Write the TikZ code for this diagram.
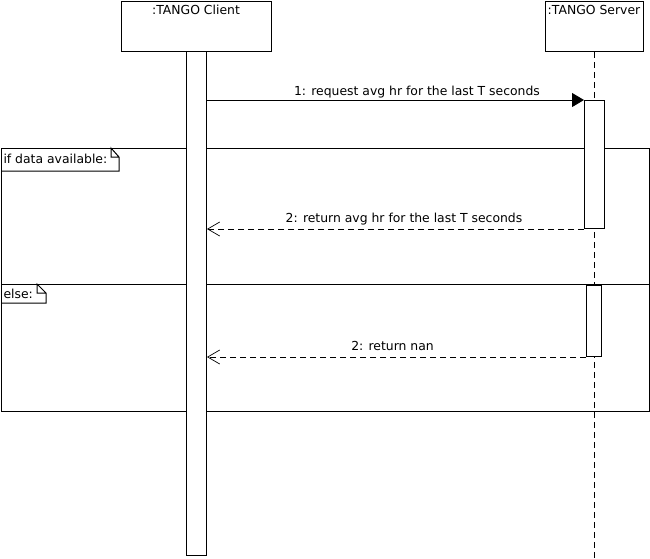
\documentclass[tikz,border=0pt]{standalone}
\usepackage{fontspec}
\setmainfont{DejaVu Sans}
\usetikzlibrary{arrows.meta}
\begin{document}
\begin{tikzpicture}[x=1pt,y=-1pt,line width=1pt,
  txt/.style={font=\fontsize{12.4}{14}\selectfont,inner sep=0pt,anchor=base},
  txtw/.style={txt,anchor=base west},
  hdr/.style={draw,fill=white,anchor=north west,minimum height=50pt,inner sep=0pt},
  actbar/.style={draw,fill=white,anchor=north west,inner sep=0pt},
  lifeline/.style={dash pattern=on 6pt off 4pt},
  msg/.style={-{Triangle[length=12pt,width=14pt]}},
  reply/.style={dash pattern=on 6pt off 4pt,-{Straight Barb[length=12pt,width=14pt,line width=0.7pt]}}]
\useasboundingbox (0,0) rectangle (650,558);
% combined fragment
\node[draw,anchor=north west,minimum width=648pt,minimum height=263pt,inner sep=0pt] (frame) at (1,148) {};
\coordinate (divL) at (1,284);
\coordinate (divR) at (649,284);
\draw (divL) -- (divR);
% operand notes
\draw (1,171) -- (119,171) -- (119,157) -- (111,148) -- (111,157) -- (119,157);
\node[txtw] (cond1) at (3,163) {if data available:};
\draw (1,303) -- (46,303) -- (46,293) -- (37,284) -- (37,293) -- (46,293);
\node[txtw] (cond2) at (3,298) {else:};
% lifeline heads
\node[hdr,minimum width=150pt] (client) at (121,1) {};
\node[txt] (clientname) at (196,14) {:TANGO Client};
\node[hdr,minimum width=98pt] (server) at (545,1) {};
\node[txt] (servername) at (594,14) {:TANGO Server};
\coordinate (srvend) at (594.5,558);
\draw[lifeline] (server.south) -- (srvend);
% activation bars
\node[actbar,minimum width=20pt,minimum height=504pt] (cbar) at (186,51) {};
\node[actbar,minimum width=20pt,minimum height=128pt] (sbar1) at (584,100) {};
\node[actbar,minimum width=15pt,minimum height=71pt] (sbar2) at (586,285) {};
% messages
\draw[msg] (cbar.east |- sbar1.north west) -- (sbar1.north west);
\node[txt] (m1) at (417,95) {1: request avg hr for the last T seconds};
\draw[reply] (sbar1.south west) -- (cbar.east |- sbar1.south west);
\node[txt] (m2) at (404,222.7) {2: return avg hr for the last T seconds};
\draw[reply] (sbar2.south west) -- (cbar.east |- sbar2.south west);
\node[txt] (m3) at (392.5,350.7) {2: return nan};
\end{tikzpicture}
\end{document}
